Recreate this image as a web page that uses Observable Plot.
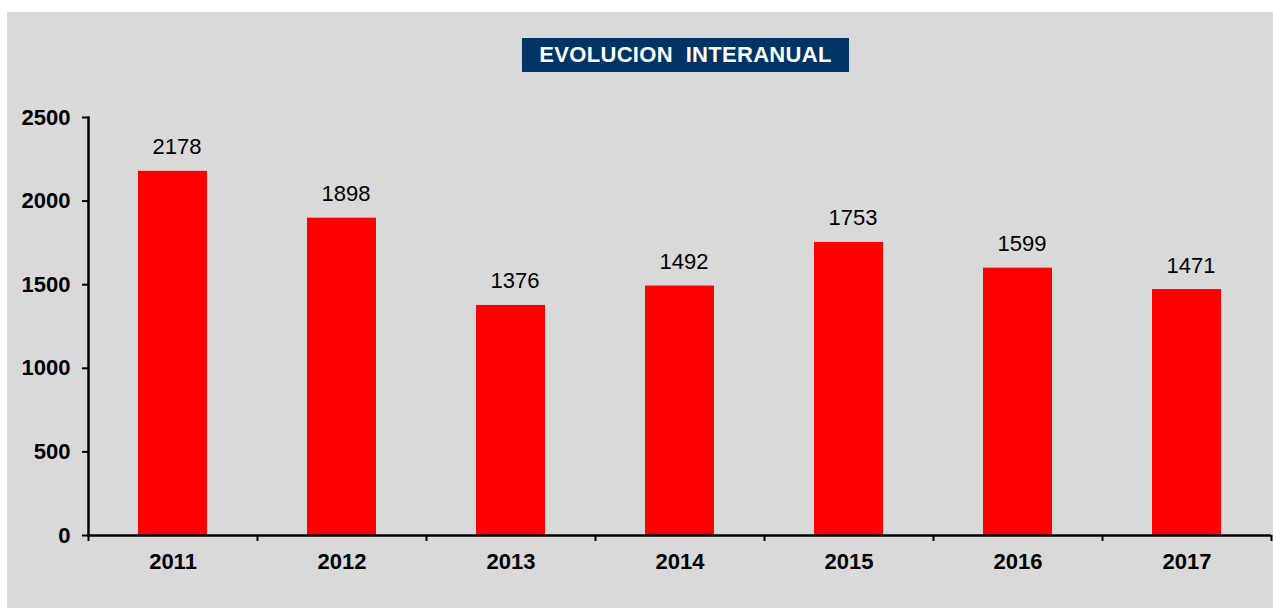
<!DOCTYPE html>
<html><head><meta charset="utf-8">
<script src="https://cdn.jsdelivr.net/npm/d3@7"></script>
<script src="https://cdn.jsdelivr.net/npm/@observablehq/plot@0.6"></script>
<style>
body{margin:0;background:#fff;}
#panel{position:absolute;left:7px;top:12px;width:1266px;height:596px;background:#d9d9d9;}
#chart{position:absolute;left:0;top:0;}
#title{position:absolute;left:515px;top:26px;width:327px;height:34px;background:#003366;color:#fff;font:bold 22px "Liberation Sans",Arial,sans-serif;letter-spacing:0.3px;text-align:center;line-height:34px;white-space:pre;}
</style></head><body>
<div id="panel"><div id="chart"></div><div id="title">EVOLUCION  INTERANUAL</div></div>
<script>
const years = ["2011","2012","2013","2014","2015","2016","2017"];
const values = [2178,1898,1376,1492,1753,1599,1471];
const yTicks = [0,500,1000,1500,2000,2500];
const data = years.map((year,i)=>({year, value: values[i]}));
const W=1266,H=596,mL=81,mR=2;
const step=(W-mL-mR)/years.length;
const chart = Plot.plot({
  width:W,height:H,marginLeft:mL,marginRight:mR,marginTop:105,marginBottom:73,
  style:{background:"transparent",fontFamily:'"Liberation Sans", Arial, sans-serif',fontSize:"22px",color:"#000"},
  x:{domain:years,padding:0,label:null},
  y:{domain:[0,2500],label:null},
  marks:[
    Plot.barY(data,{x:"year",y:"value",fill:"#ff0000",insetLeft:50,insetRight:50}),
    Plot.text(data,{x:"year",y:"value",text:d=>String(d.value),dy:-24,dx:4,fontSize:22,fill:"#000"}),
    Plot.axisY(yTicks,{tickSize:6,tickPadding:12,strokeWidth:2,fontWeight:"bold",fontSize:22,label:null,tickFormat:d=>String(d)}),
    Plot.axisX({tickSize:0,tickPadding:18,fontWeight:"bold",fontSize:22,label:null}),
    Plot.ruleX(years,{x:d=>d,y1:0,y2:0,dx:-step/2,insetBottom:-6,strokeWidth:2}),
    Plot.ruleX([years[years.length-1]],{x:d=>d,y1:0,y2:0,dx:step/2,insetBottom:-6,strokeWidth:2}),
    Plot.ruleY([0],{strokeWidth:2.5}),
    Plot.frame({anchor:"left",strokeWidth:2.5})
  ]
});
document.getElementById("chart").appendChild(chart);
</script>
</body></html>
